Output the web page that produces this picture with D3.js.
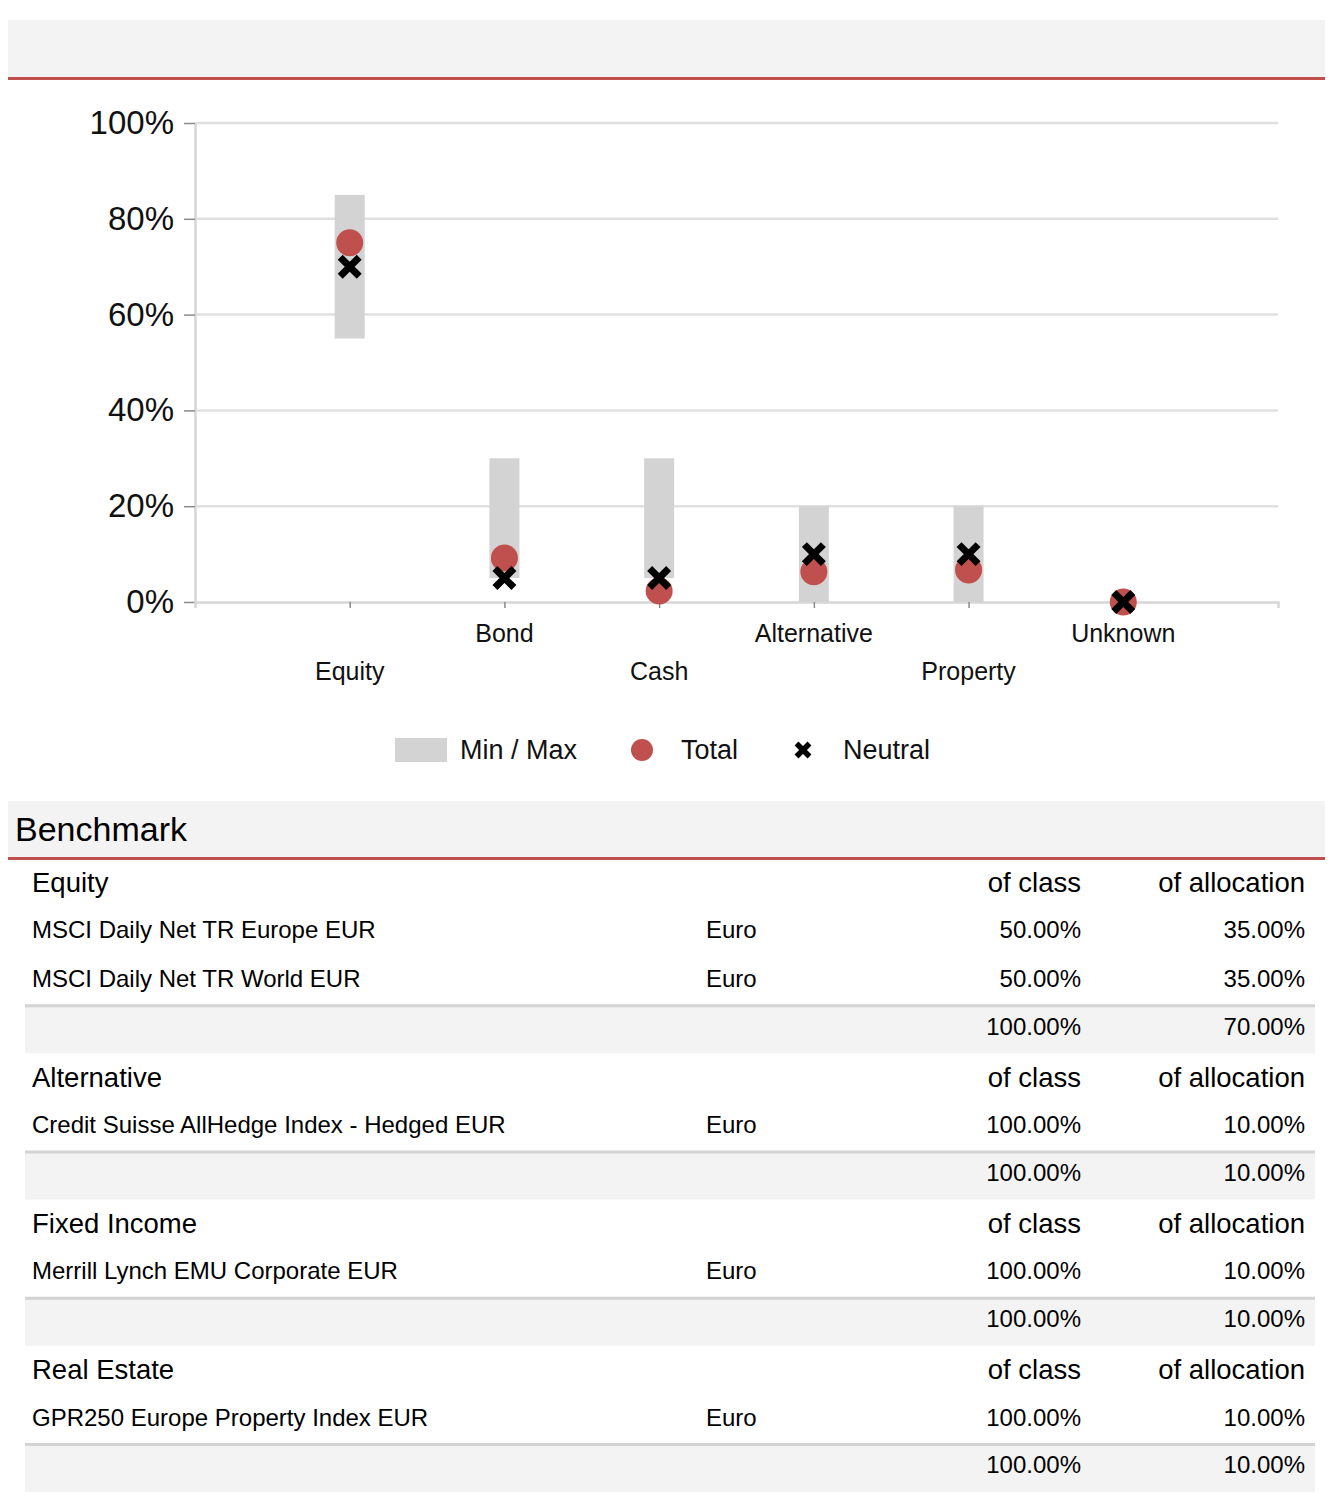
<!DOCTYPE html>
<html>
<head>
<meta charset="utf-8">
<script src="https://cdn.jsdelivr.net/npm/d3@7"></script>
<style>
  html, body { margin: 0; padding: 0; background: #ffffff; }
  svg { display: block; font-family: "Liberation Sans", Arial, Helvetica, sans-serif; }
</style>
</head>
<body>
<svg id="chart" width="1332" height="1512"></svg>
<script>
// ---- Chart data ----
const categories = ["Equity", "Bond", "Cash", "Alternative", "Property", "Unknown"];
const minValues = [55, 5, 5, 0, 0, 0];
const maxValues = [85, 30, 30, 20, 20, 0];
const totalValues = [75, 9.2, 2.3, 6.3, 6.7, 0];
const neutralValues = [70, 5, 5, 10, 10, 0];
const yTicks = [0, 20, 40, 60, 80, 100];
const legendLabels = ["Min / Max", "Total", "Neutral"];

// ---- Table data ----
const sectionNames = ["Equity", "Alternative", "Fixed Income", "Real Estate"];
const holdingNames = ["MSCI Daily Net TR Europe EUR", "MSCI Daily Net TR World EUR",
  "Credit Suisse AllHedge Index - Hedged EUR", "Merrill Lynch EMU Corporate EUR",
  "GPR250 Europe Property Index EUR"];
const holdingSection = [0, 0, 1, 2, 3];
const holdingCurrency = ["Euro", "Euro", "Euro", "Euro", "Euro"];
const holdingOfClass = ["50.00%", "50.00%", "100.00%", "100.00%", "100.00%"];
const holdingOfAllocation = ["35.00%", "35.00%", "10.00%", "10.00%", "10.00%"];
const subtotalOfClass = ["100.00%", "100.00%", "100.00%", "100.00%"];
const subtotalOfAllocation = ["70.00%", "10.00%", "10.00%", "10.00%"];
const columnHeaders = ["of class", "of allocation"];
const tableTitle = "Benchmark";

const RED = "#c0504d";
const svg = d3.select("#chart");

// Top header band
svg.append("rect").attr("x", 8).attr("y", 20).attr("width", 1317).attr("height", 57).attr("fill", "#f3f3f3");
svg.append("rect").attr("x", 8).attr("y", 77).attr("width", 1317).attr("height", 3).attr("fill", RED);

// ---- Chart ----
const x = d3.scalePoint().domain(categories).range([195, 1278]).padding(1);
const y = d3.scaleLinear().domain([0, 100]).range([602, 123]);

const g = svg.append("g");

// gridlines
g.append("g").selectAll("line").data(yTicks.filter(d => d > 0)).join("line")
  .attr("x1", 195).attr("x2", 1278)
  .attr("y1", d => y(d)).attr("y2", d => y(d))
  .attr("stroke", "#e0e0e0").attr("stroke-width", 2.5);

// y axis
const yAxis = g.append("g").attr("transform", "translate(195,0)")
  .call(d3.axisLeft(y).tickValues(yTicks).tickFormat(d => d + "%").tickSize(11).tickSizeOuter(0).tickPadding(10));
yAxis.select(".domain").attr("stroke", "#d6d6d6").attr("stroke-width", 2.5);
yAxis.selectAll(".tick line").attr("stroke", "#8a8a8a").attr("stroke-width", 1.5);
yAxis.selectAll(".tick text").attr("font-size", 33).attr("fill", "#111").attr("font-family", "Liberation Sans, Arial, sans-serif");

// x axis
const xAxis = g.append("g").attr("transform", "translate(0,602)")
  .call(d3.axisBottom(x).tickSize(6).tickSizeOuter(6).tickFormat(""));
xAxis.select(".domain").attr("stroke", "#d6d6d6").attr("stroke-width", 2.5);
xAxis.selectAll(".tick line").attr("stroke", "#8a8a8a").attr("stroke-width", 1.5);

// category labels (staggered)
g.append("g").selectAll("text").data(categories).join("text")
  .attr("x", d => x(d))
  .attr("y", (d, i) => i % 2 === 0 ? 671 : 633)
  .attr("dy", "0.35em")
  .attr("text-anchor", "middle")
  .attr("font-size", 25).attr("fill", "#111")
  .text(d => d);

// min/max bars
g.append("g").selectAll("rect").data(categories).join("rect")
  .attr("x", d => x(d) - 15)
  .attr("width", 30)
  .attr("y", (d, i) => y(maxValues[i]))
  .attr("height", (d, i) => y(minValues[i]) - y(maxValues[i]))
  .attr("fill", "#d3d3d3");

// total circles
g.append("g").selectAll("circle").data(categories).join("circle")
  .attr("cx", d => x(d))
  .attr("cy", (d, i) => y(totalValues[i]))
  .attr("r", 13.5)
  .attr("fill", RED);

// neutral crosses
function cross(sel, s, w) {
  sel.append("path")
    .attr("d", `M${-s},${-s}L${s},${s}M${-s},${s}L${s},${-s}`)
    .attr("stroke", "#000").attr("stroke-width", w).attr("fill", "none");
}
g.append("g").selectAll("g").data(categories).join("g")
  .attr("transform", (d, i) => `translate(${x(d)},${y(neutralValues[i])})`)
  .each(function () { cross(d3.select(this), 9.5, 7); });

// legend
const lg = svg.append("g");
lg.append("rect").attr("x", 395).attr("y", 738).attr("width", 52).attr("height", 24).attr("fill", "#d3d3d3");
lg.append("circle").attr("cx", 642).attr("cy", 750).attr("r", 11).attr("fill", RED);
cross(lg.append("g").attr("transform", "translate(803,750)"), 6.5, 5.5);
const legendX = [460, 681, 843];
lg.selectAll("text").data(legendLabels).join("text")
  .attr("x", (d, i) => legendX[i]).attr("y", 750).attr("dy", "0.35em")
  .attr("font-size", 27).attr("fill", "#111")
  .text(d => d);

// ---- Table ----
svg.append("rect").attr("x", 8).attr("y", 801).attr("width", 1317).attr("height", 56).attr("fill", "#f3f3f3");
svg.append("rect").attr("x", 8).attr("y", 857).attr("width", 1317).attr("height", 3).attr("fill", RED);
svg.append("text").attr("x", 15).attr("y", 829).attr("dy", "0.35em")
  .attr("font-size", 34).attr("fill", "#000").text(tableTitle);

const rowH = 48.75;
const firstRow = 882;
const colName = 32, colCur = 706, colClass = 1081, colAlloc = 1305;
const t = svg.append("g");
let r = 0;
sectionNames.forEach((sec, si) => {
  const cy = firstRow + r * rowH;
  t.append("text").attr("x", colName).attr("y", cy).attr("dy", "0.35em").attr("font-size", 27.5).text(sec);
  t.append("text").attr("x", colClass).attr("y", cy).attr("dy", "0.35em").attr("font-size", 27.5).attr("text-anchor", "end").text(columnHeaders[0]);
  t.append("text").attr("x", colAlloc).attr("y", cy).attr("dy", "0.35em").attr("font-size", 27.5).attr("text-anchor", "end").text(columnHeaders[1]);
  r++;
  holdingNames.forEach((h, hi) => {
    if (holdingSection[hi] !== si) return;
    const ry = firstRow + r * rowH - 1;
    t.append("text").attr("x", colName).attr("y", ry).attr("dy", "0.35em").attr("font-size", 24).text(h);
    t.append("text").attr("x", colCur).attr("y", ry).attr("dy", "0.35em").attr("font-size", 24).text(holdingCurrency[hi]);
    t.append("text").attr("x", colClass).attr("y", ry).attr("dy", "0.35em").attr("font-size", 24).attr("text-anchor", "end").text(holdingOfClass[hi]);
    t.append("text").attr("x", colAlloc).attr("y", ry).attr("dy", "0.35em").attr("font-size", 24).attr("text-anchor", "end").text(holdingOfAllocation[hi]);
    r++;
  });
  const sy = firstRow + r * rowH;
  t.append("rect").attr("x", 25).attr("y", sy - 23).attr("width", 1290).attr("height", 48).attr("fill", "#f3f3f3");
  t.append("rect").attr("x", 25).attr("y", sy - 24).attr("width", 1290).attr("height", 3).attr("fill", "#d3d3d3");
  t.append("text").attr("x", colClass).attr("y", sy - 2).attr("dy", "0.35em").attr("font-size", 24).attr("text-anchor", "end").text(subtotalOfClass[si]);
  t.append("text").attr("x", colAlloc).attr("y", sy - 2).attr("dy", "0.35em").attr("font-size", 24).attr("text-anchor", "end").text(subtotalOfAllocation[si]);
  r++;
});
</script>
</body>
</html>
